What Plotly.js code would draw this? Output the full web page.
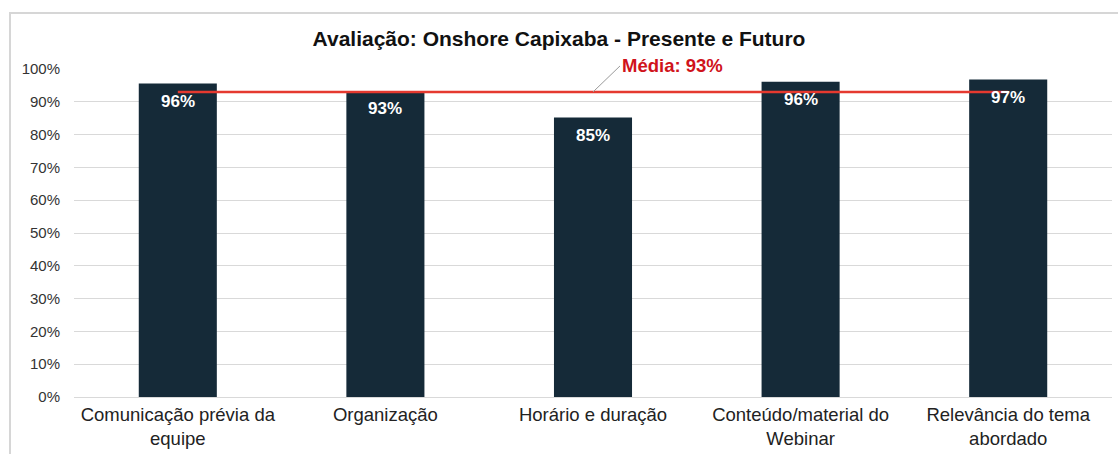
<!DOCTYPE html>
<html><head><meta charset="utf-8">
<script src="https://cdn.plot.ly/plotly-3.0.1.min.js"></script>
<style>
html,body{margin:0;padding:0;background:#fff;}
#wrap{position:relative;width:1118px;height:454px;}
#frame{position:absolute;left:9px;top:12px;width:1120px;height:460px;border-left:2px solid #d6d6d6;border-top:2px solid #d6d6d6;pointer-events:none;z-index:5;}
#chart{position:absolute;left:0;top:0;width:1118px;height:454px;}
</style></head>
<body><div id="wrap"><div id="chart"></div><div id="frame"></div></div>
<script>
const categories = ["Comunicação prévia da<br>equipe","Organização","Horário e duração","Conteúdo/material do<br>Webinar","Relevância do tema<br>abordado"];
const values = [95.6, 93.3, 85.2, 96.1, 96.8];
const labels = ["96%","93%","85%","96%","97%"];
const mean = 93;
const meanLabel = "Média: 93%";
const title = "Avaliação: Onshore Capixaba - Presente e Futuro";
const tickVals = [0,10,20,30,40,50,60,70,80,90,100];
const tickText = ["0%","10%","20%","30%","40%","50%","60%","70%","80%","90%","100%"];

const FONT = 'Liberation Sans, Arial, Helvetica, sans-serif';
const traces = [
 {type:'bar', x:categories, y:values, marker:{color:'#152a38'}, hoverinfo:'skip'},
 {type:'scatter', mode:'lines', x:categories, y:categories.map(()=>mean),
  line:{color:'#e5392f', width:2.5}, hoverinfo:'skip'}
];
const labelAnns = categories.map((c,i)=>({
  x:c, y:values[i], xref:'x', yref:'y', text:'<b>'+labels[i]+'</b>', showarrow:false,
  yanchor:'middle', xanchor:'center', yshift:-18,
  font:{size:17, color:'#ffffff', family:FONT}
}));
const layout = {
 width:1118, height:454,
 margin:{l:74, r:6, t:69, b:57},
 paper_bgcolor:'#ffffff', plot_bgcolor:'#ffffff',
 showlegend:false, bargap:0.624,
 font:{family:FONT, color:'#222'},
 title:{text:'<b>'+title+'</b>', x:0.5, xanchor:'center', y:0.914, yanchor:'middle',
  font:{size:21, color:'#111', family:FONT}},
 xaxis:{type:'category', tickfont:{size:18.5, color:'#222'}, showgrid:false, ticks:'', showline:false,
  ticklabelstandoff:4},
 yaxis:{range:[0,100], tickvals:tickVals, ticktext:tickText, tickfont:{size:15, color:'#333'},
  gridcolor:'#d9d9d9', gridwidth:1, zeroline:true, zerolinecolor:'#d9d9d9', zerolinewidth:1,
  ticks:'', ticklen:0, showline:false, ticklabelstandoff:13},
 annotations:labelAnns.concat([
  {x:categories[2], y:mean, xref:'x', yref:'y', text:'<b>'+meanLabel+'</b>', showarrow:true,
   arrowhead:0, arrowwidth:1, arrowcolor:'#9a9a9a', ax:27, ay:-26, xanchor:'left', yanchor:'middle',
   font:{size:18.5, color:'#d0131b', family:FONT}}
 ])
};
Plotly.newPlot('chart', traces, layout, {displayModeBar:false, staticPlot:true});
</script></body></html>
